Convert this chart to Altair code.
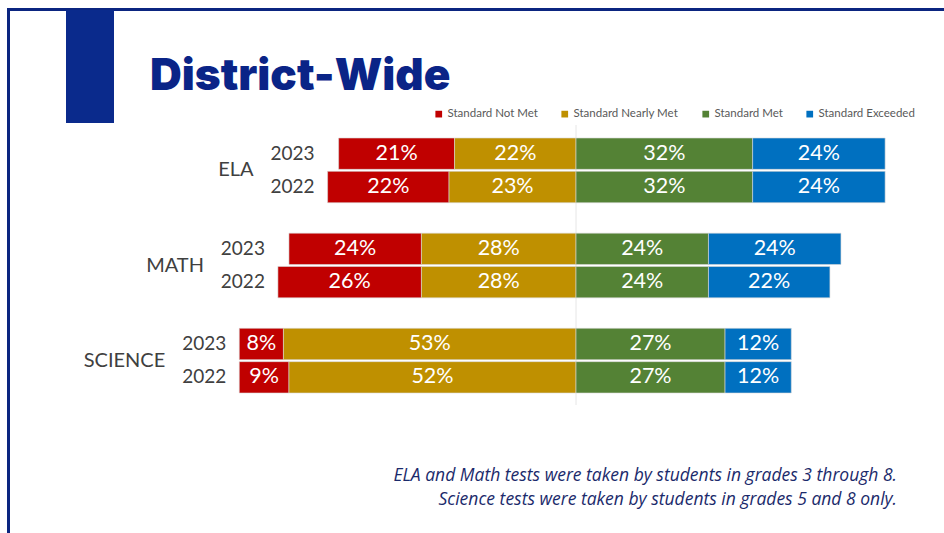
import altair as alt
import pandas as pd

# ---- data ----
subjects = ["ELA", "ELA", "MATH", "MATH", "SCIENCE", "SCIENCE"]
years = ["2023", "2022", "2023", "2022", "2023", "2022"]
not_met = [21, 22, 24, 26, 8, 9]
nearly_met = [22, 23, 28, 28, 53, 52]
met = [32, 32, 24, 24, 27, 27]
exceeded = [24, 24, 24, 22, 12, 12]

levels = ["Standard Not Met", "Standard Nearly Met", "Standard Met", "Standard Exceeded"]
level_colors = ["#C00000", "#BF9000", "#548235", "#0070C0"]
subject_order = ["ELA", "MATH", "SCIENCE"]
year_order = ["2023", "2022"]

title_text = "District-Wide"
note_lines = [
    "ELA and Math tests were taken by students in grades 3 through 8.",
    "Science tests were taken by students in grades 5 and 8 only.",
]

# ---- build diverging table ----
rows = []
for i in range(len(subjects)):
    nm, nr, m, ex = not_met[i], nearly_met[i], met[i], exceeded[i]
    segs = [
        (levels[0], nm, -(nr + nm), -nr),
        (levels[1], nr, -nr, 0),
        (levels[2], m, 0, m),
        (levels[3], ex, m, m + ex),
    ]
    for lvl, v, a, b in segs:
        rows.append(dict(subject=subjects[i], year=years[i], level=lvl, value=v,
                         start=a, end=b, mid=(a + b) / 2, label=f"{v}%"))
df = pd.DataFrame(rows)

left_ext = pd.DataFrame({"subject": subjects, "year": years,
                         "left": [-(a + b) for a, b in zip(not_met, nearly_met)]})
left_ext["group_left"] = left_ext.groupby("subject")["left"].transform("min")
subj_df = left_ext.groupby("subject", as_index=False)["group_left"].min()

X_RANGE = [576 - 60 * 5.52, 576 + 60 * 5.52]
xscale = alt.Scale(domain=[-60, 60], range=X_RANGE)
yscale = alt.Scale(domain=subject_order, range=[138, 393], paddingInner=0.32, paddingOuter=0)
yoff = alt.YOffset("year:N", scale=alt.Scale(domain=year_order, paddingInner=0.06))

FONT = "Lato"

base = alt.Chart(df)

bars = base.mark_bar(stroke="#d9d9d9", strokeWidth=0.6).encode(
    x=alt.X("start:Q", scale=xscale, axis=None),
    x2="end:Q",
    y=alt.Y("subject:N", scale=yscale, axis=None),
    yOffset=yoff,
    color=alt.Color("level:N", scale=alt.Scale(domain=levels, range=level_colors),
                    legend=alt.Legend(orient="none", legendX=433, legendY=108,
                                      direction="horizontal", title=None,
                                      symbolType="square", symbolSize=45,
                                      symbolStrokeWidth=0, labelFont=FONT,
                                      labelFontSize=11.5, labelColor="#595959",
                                      columnPadding=21, labelOffset=3)),
)

bar_text = base.mark_text(color="white", font=FONT, fontSize=21.5, baseline="middle").encode(
    x=alt.X("mid:Q", scale=xscale),
    y=alt.Y("subject:N", scale=yscale),
    yOffset=yoff,
    text="label:N",
)

year_text = alt.Chart(left_ext).mark_text(align="right", baseline="middle", dx=-13,
                                          font=FONT, fontSize=19, color="#404040").encode(
    x=alt.X("group_left:Q", scale=xscale),
    y=alt.Y("subject:N", scale=yscale),
    yOffset=yoff,
    text="year:N",
)

subj_text = alt.Chart(subj_df).mark_text(align="right", baseline="middle", dx=-74,
                                         font=FONT, fontSize=20, color="#404040").encode(
    x=alt.X("group_left:Q", scale=xscale),
    y=alt.Y("subject:N", scale=yscale),
    text="subject:N",
)

one = pd.DataFrame({"k": [0]})
center = alt.Chart(one).mark_rule(color="#e6e6e6", strokeWidth=1).encode(
    x=alt.value(576), y=alt.value(125), y2=alt.value(405))

frame_top = alt.Chart(one).mark_rect(color="#0B2580").encode(
    x=alt.value(7), x2=alt.value(944), y=alt.value(8), y2=alt.value(11))
frame_left = alt.Chart(one).mark_rect(color="#0B2580").encode(
    x=alt.value(7), x2=alt.value(10), y=alt.value(8), y2=alt.value(533))
block = alt.Chart(one).mark_rect(color="#0A2A8C").encode(
    x=alt.value(66), x2=alt.value(114), y=alt.value(10), y2=alt.value(123))

title = alt.Chart(pd.DataFrame({"t": [title_text]})).mark_text(
    align="left", baseline="alphabetic", font="Inter", fontWeight=900, fontSize=44,
    color="#0A2487").encode(x=alt.value(150), y=alt.value(90), text="t:N")

note1 = alt.Chart(pd.DataFrame({"t": [note_lines[0]]})).mark_text(
    align="right", baseline="alphabetic", font="Open Sans", fontStyle="italic",
    fontSize=17.5, color="#1B2A6B").encode(x=alt.value(897), y=alt.value(481), text="t:N")
note2 = alt.Chart(pd.DataFrame({"t": [note_lines[1]]})).mark_text(
    align="right", baseline="alphabetic", font="Open Sans", fontStyle="italic",
    fontSize=17.5, color="#1B2A6B").encode(x=alt.value(897), y=alt.value(505), text="t:N")

chart = alt.layer(frame_top, frame_left, block, title, center, bars, bar_text,
                  year_text, subj_text, note1, note2).properties(
    width=944, height=533, padding=0,
    autosize=alt.AutoSizeParams(type="none"),
    background="white",
).configure_view(stroke=None)

chart.save("out.html", embed_options={"renderer": "svg", "actions": False})
